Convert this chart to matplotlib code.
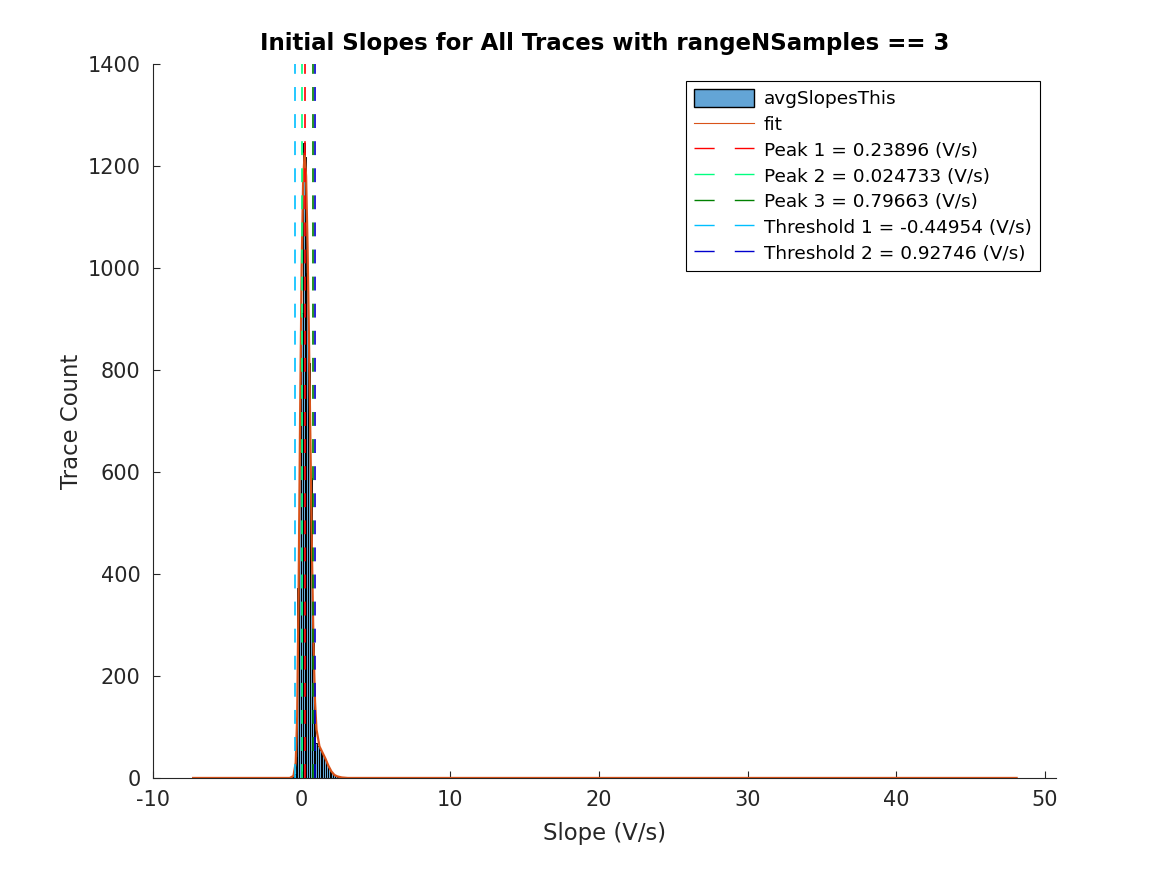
import matplotlib
matplotlib.use("Agg")
import matplotlib.pyplot as plt
from matplotlib.lines import Line2D
from matplotlib.patches import Patch

# histogram of initial slopes (bin centres in V/s, counts)
bin_width = 0.12
bin_centers = [-7.26, -1.14, -0.58, -0.46, -0.34, -0.22, -0.10, 0.02, 0.14, 0.26,
               0.38, 0.50, 0.62, 0.74, 0.86, 0.98, 1.10, 1.22, 1.34, 1.46,
               1.58, 1.70, 1.82, 1.94, 2.06, 2.18, 2.30, 2.42, 3.30, 6.86,
               10.50, 47.95]
counts = [2, 2, 2, 8, 41, 372, 640, 912, 1245, 1218,
          990, 814, 588, 264, 140, 68, 62, 55, 52, 45,
          36, 28, 20, 14, 9, 5, 3, 1, 2, 2,
          2, 2]

# fitted curve
fit_x = [-7.3, -0.8, -0.55, -0.4, -0.3, -0.2, -0.1, 0.0, 0.1, 0.2, 0.3, 0.4,
         0.5, 0.6, 0.7, 0.8, 0.9, 1.0, 1.2, 1.4, 1.6, 1.8, 2.0, 2.2, 2.4,
         2.7, 3.1, 48.1]
fit_y = [0, 0, 4, 30, 120, 380, 720, 1000, 1170, 1225, 1180, 1040,
         850, 640, 430, 260, 150, 95, 62, 50, 38, 24, 13, 6, 3,
         1, 0, 0]

peak_labels = ['Peak 1 = 0.23896 (V/s)', 'Peak 2 = 0.024733 (V/s)',
               'Peak 3 = 0.79663 (V/s)', 'Threshold 1 = -0.44954 (V/s)',
               'Threshold 2 = 0.92746 (V/s)']
peak_values = [0.23896, 0.024733, 0.79663, -0.44954, 0.92746]
peak_colors = ['#ff0000', '#00ff80', '#008000', '#00bfff', '#0000cd']

plt.rcParams['font.family'] = 'DejaVu Sans'
plt.rcParams['lines.scale_dashes'] = False
plt.rcParams['axes.unicode_minus'] = False

fig = plt.figure(figsize=(11.67, 8.75), dpi=100)
ax = fig.add_axes([0.1311, 0.1109, 0.7738, 0.816])

ax.bar(bin_centers, counts, width=bin_width, color='#0072bd', alpha=0.6,
       edgecolor='black', linewidth=0.6)
ax.bar(bin_centers, counts, width=bin_width, fill=False,
       edgecolor='black', linewidth=0.6)
ax.plot(fit_x, fit_y, color='#d95319', lw=1.6)

for v, c in zip(peak_values, peak_colors):
    ax.axvline(v, color=c, lw=1.2, linestyle=(0, (10, 9.5)))

ax.set_xlim(-10, 50.75)
ax.set_ylim(0, 1400)
ax.set_xticks(range(-10, 51, 10))
ax.set_yticks(range(0, 1401, 200))
ax.tick_params(direction='in', length=5, labelsize=15, colors='#262626')
ax.tick_params(axis='x', pad=8.5)
ax.tick_params(axis='y', pad=9)
ax.spines['top'].set_visible(False)
ax.spines['right'].set_visible(False)
for s in ['left', 'bottom']:
    ax.spines[s].set_color('#262626')

ax.set_xlabel('Slope (V/s)', fontsize=16.4, color='#262626', labelpad=9)
ax.set_ylabel('Trace Count', fontsize=16.4, color='#262626', labelpad=3)
ax.set_title('Initial Slopes for All Traces with rangeNSamples == 3',
             fontsize=16.5, fontweight='bold', pad=10)

handles = [Patch(facecolor='#63a5d6', edgecolor='black', linewidth=1),
           Line2D([], [], color='#d95319', lw=0.8)]
for c in peak_colors:
    handles.append(Line2D([], [], color=c, lw=1.0, linestyle=(0, (14.5, 14.5))))
labels = ['avgSlopesThis', 'fit'] + peak_labels

leg = ax.legend(handles, labels, loc='upper right', bbox_to_anchor=(0.982, 0.976),
                borderaxespad=0, fontsize=13.3, handlelength=3.25,
                handleheight=1.08, handletextpad=0.5, labelspacing=0.36,
                fancybox=False, framealpha=1, edgecolor='black',
                borderpad=0.45)
leg.get_frame().set_linewidth(0.8)

fig.savefig('out.png', dpi=100, facecolor='white')
